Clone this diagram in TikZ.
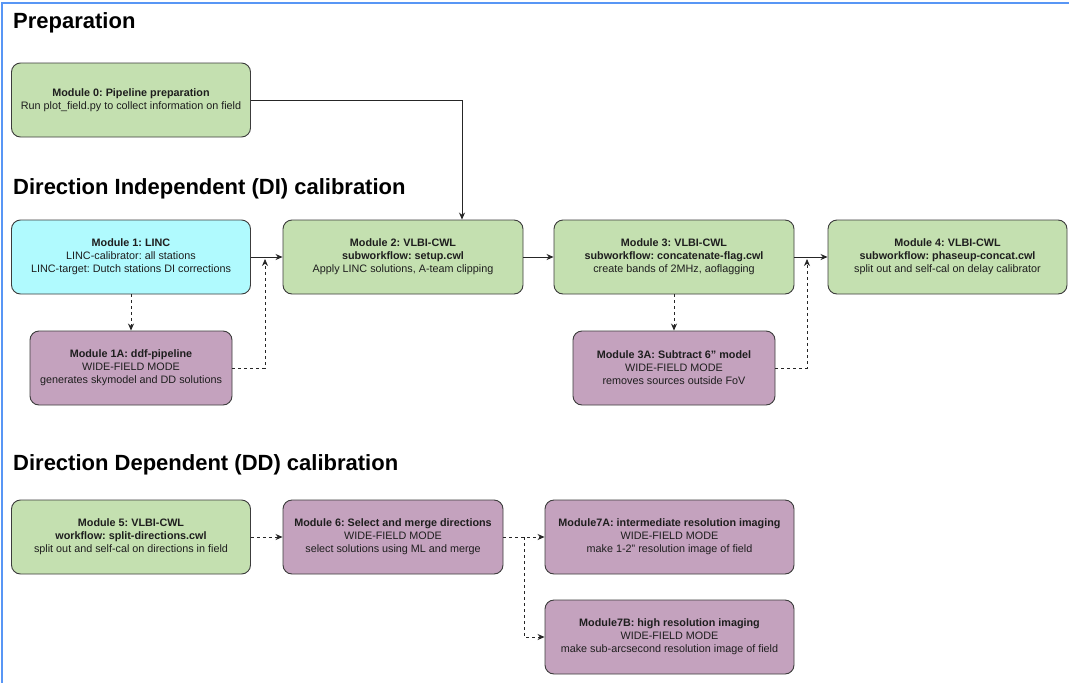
\documentclass[tikz,border=0pt]{standalone}
\usepackage{fontspec}
\setmainfont{Liberation Sans}
\usetikzlibrary{arrows.meta}
\definecolor{gfill}{RGB}{196,224,176}
\definecolor{cfill}{RGB}{176,250,254}
\definecolor{pfill}{RGB}{196,162,190}
\definecolor{boxline}{RGB}{60,60,60}
\definecolor{frameblue}{RGB}{88,150,245}
\definecolor{txt}{RGB}{30,30,30}
\frenchspacing
% straight double quote (arcsecond mark)
\newcommand{\arcsec}{\symbol{"22}}
\begin{document}
\begin{tikzpicture}[x=1pt,y=-1pt,
  box/.style={draw=boxline, line width=0.9pt, rounded corners=9pt, align=center,
    inner sep=0pt, minimum height=74pt, text=txt,
    font=\fontsize{10.8}{13}\selectfont},
  green/.style={box, fill=gfill},
  cyan/.style={box, fill=cfill},
  purple/.style={box, fill=pfill},
  heading/.style={anchor=base west, inner sep=0pt, text=black,
    font=\bfseries\fontsize{22}{26}\selectfont},
  conn/.style={draw=black!85, line width=0.8pt, -{Stealth[length=7pt,width=6pt]}},
  dconn/.style={conn, dash pattern=on 3pt off 3pt}]
\useasboundingbox (0,0) rectangle (1069,683);
\fill[white] (0,0) rectangle (1069,683);
% outer frame
\draw[frameblue, line width=2pt] (2,683) -- (2,3) -- (1069,3);

% section headings
\node[heading] (h0) at (13,28) {Preparation};
\node[heading] (h1) at (13,194) {Direction Independent (DI) calibration};
\node[heading] (h2) at (13,470) {Direction Dependent (DD) calibration};

% preparation
\node[green, minimum width=239pt] (m0) at (131,100)
  {\textbf{Module 0: Pipeline preparation}\\Run plot\_field.py to collect information on field};

% direction independent calibration
\node[cyan, minimum width=239pt] (m1) at (131,257)
  {\textbf{Module 1: LINC}\\LINC-calibrator: all stations\\LINC-target: Dutch stations DI corrections};
\node[green, minimum width=240pt] (m2) at (403,257)
  {\textbf{Module 2: VLBI-CWL}\\\textbf{subworkflow: setup.cwl}\\Apply LINC solutions, A-team clipping};
\node[green, minimum width=240pt] (m3) at (674,257)
  {\textbf{Module 3: VLBI-CWL}\\\textbf{subworkflow: concatenate-flag.cwl}\\create bands of 2MHz, aoflagging};
\node[green, minimum width=239pt] (m4) at (947.5,257)
  {\textbf{Module 4: VLBI-CWL}\\\textbf{subworkflow: phaseup-concat.cwl}\\split out and self-cal on delay calibrator};
\node[purple, minimum width=202pt] (m1a) at (131,368)
  {\textbf{Module 1A: ddf-pipeline}\\WIDE-FIELD MODE\\generates skymodel and DD solutions};
\node[purple, minimum width=202pt] (m3a) at (674,368)
  {\textbf{Module 3A: Subtract 6\arcsec{} model}\\WIDE-FIELD MODE\\removes sources outside FoV};

% direction dependent calibration
\node[green, minimum width=239pt] (m5) at (131,537)
  {\textbf{Module 5: VLBI-CWL}\\\textbf{workflow: split-directions.cwl}\\split out and self-cal on directions in field};
\node[purple, minimum width=220pt] (m6) at (393,537)
  {\textbf{Module 6: Select and merge directions}\\WIDE-FIELD MODE\\select solutions using ML and merge};
\node[purple, minimum width=249pt] (m7a) at (669.5,537)
  {\textbf{Module7A: intermediate resolution imaging}\\WIDE-FIELD MODE\\make 1-2\arcsec{} resolution image of field};
\node[purple, minimum width=249pt] (m7b) at (669.5,637)
  {\textbf{Module7B: high resolution imaging}\\WIDE-FIELD MODE\\make sub-arcsecond resolution image of field};

% routing points
\coordinate (c0) at (462,0);
\coordinate (j1) at (265,259);
\coordinate (j3) at (807,259);
\coordinate (br) at (524,0);

% connectors
\draw[conn] (m0.east) -| (c0 |- m2.north);
\draw[conn] (m1.east) -- (m2.west);
\draw[conn] (m2.east) -- (m3.west);
\draw[conn] (m3.east) -- (m4.west);
\draw[dconn] (m1.south) -- (m1a.north);
\draw[dconn] (m1a.east) -| (j1);
\draw[dconn] (m3.south) -- (m3a.north);
\draw[dconn] (m3a.east) -| (j3);
\draw[dconn] (m5.east) -- (m6.west);
\draw[dconn] (m6.east) -- (m7a.west);
\draw[dconn] (m6.east -| br) |- (m7b.west);
\end{tikzpicture}
\end{document}
